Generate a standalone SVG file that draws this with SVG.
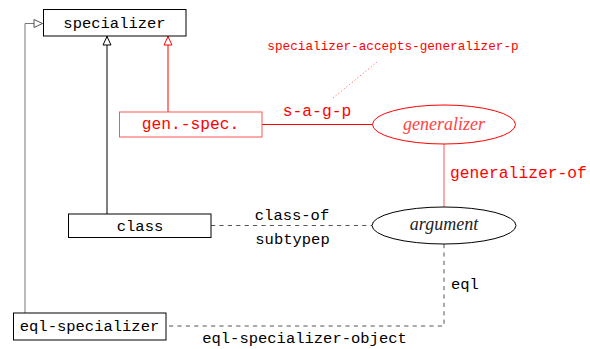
<svg xmlns="http://www.w3.org/2000/svg" width="590" height="349" viewBox="0 0 590 349">
<defs>
<style>
.box{fill:#fff;stroke:#000;stroke-width:1}
.rbox{fill:#fff;stroke:#f55;stroke-width:1}
.t{font-family:"Liberation Mono","DejaVu Sans Mono",monospace;font-size:15.5px;fill:#000}
.rt{font-family:"Liberation Mono","DejaVu Sans Mono",monospace;font-size:16.3px;fill:#f00}
.st{font-family:"Liberation Mono","DejaVu Sans Mono",monospace;font-size:12.7px;fill:#f00}
.it{font-family:"Liberation Serif","DejaVu Serif",serif;font-style:italic;font-size:18px}
.ln{fill:none;stroke-width:1}
</style>
<marker id="tri" viewBox="0 0 10 10" refX="10" refY="5" markerWidth="10" markerHeight="10" markerUnits="userSpaceOnUse" orient="auto">
<path d="M1,1 L9.5,5 L1,9 Z" fill="#fff" stroke="#000" stroke-width="1"/>
</marker>
<marker id="trir" viewBox="0 0 10 10" refX="10" refY="5" markerWidth="10" markerHeight="10" markerUnits="userSpaceOnUse" orient="auto">
<path d="M1,1 L9.5,5 L1,9 Z" fill="#fff" stroke="#f00" stroke-width="1"/>
</marker>
<marker id="trig" viewBox="0 0 10 10" refX="10" refY="5" markerWidth="10" markerHeight="10" markerUnits="userSpaceOnUse" orient="auto">
<path d="M1,1 L9.5,5 L1,9 Z" fill="#fff" stroke="#555" stroke-width="1"/>
</marker>
</defs>
<rect width="590" height="349" fill="#fff"/>
<g id="connectors">
<path class="ln" d="M25,313 V23.5 H43" stroke="#777" marker-end="url(#trig)"/>
<path class="ln" d="M107,214 V36" stroke="#000" marker-end="url(#tri)"/>
<path class="ln" d="M168,112 V36" stroke="#f00" marker-end="url(#trir)"/>
<path class="ln" d="M262,124.5 H372.5" stroke="#f00"/>
<path class="ln" d="M444,144 V207" stroke="#f55"/>
<path class="ln" d="M211,225.5 H372" stroke="#555" stroke-dasharray="4.2 4.2"/>
<path class="ln" d="M444,244 V326 H166" stroke="#555" stroke-dasharray="4.2 4.2"/>
<path class="ln" d="M333,98 L377,62" stroke="#f55" stroke-dasharray="1 2.5"/>
<text class="rt" x="317" y="116" text-anchor="middle">s-a-g-p</text>
<text class="st" x="393" y="50" text-anchor="middle">specializer-accepts-generalizer-p</text>
<text class="rt" x="450" y="178">generalizer-of</text>
<text class="t" x="292" y="219.5" text-anchor="middle">class-of</text>
<text class="t" x="292.5" y="243.5" text-anchor="middle">subtypep</text>
<text class="t" x="451" y="289">eql</text>
<text class="t" x="304.5" y="343" text-anchor="middle">eql-specializer-object</text>
</g>
<g id="specializer">
<rect class="box" x="43.5" y="9.5" width="142.5" height="26.5"/>
<text class="t" x="114.5" y="28" text-anchor="middle">specializer</text>
</g>
<g id="gen-spec">
<rect class="rbox" x="119.5" y="112" width="142.5" height="25"/>
<text class="rt" x="190.5" y="128.5" text-anchor="middle">gen.-spec.</text>
</g>
<g id="generalizer">
<ellipse cx="444" cy="124.5" rx="71.5" ry="19.5" fill="#fff" stroke="#f00" stroke-width="1"/>
<text class="it" x="444" y="129.5" text-anchor="middle" fill="#f44">generalizer</text>
</g>
<g id="class">
<rect class="box" x="68.5" y="214" width="142.5" height="23.5"/>
<text class="t" x="140" y="231" text-anchor="middle">class</text>
</g>
<g id="argument">
<ellipse cx="444" cy="225.5" rx="72" ry="18.5" fill="#fff" stroke="#000" stroke-width="1"/>
<text class="it" x="444" y="230" text-anchor="middle" fill="#222">argument</text>
</g>
<g id="eql-specializer">
<rect class="box" x="13.5" y="313" width="152.5" height="27"/>
<text class="t" x="89.5" y="331" text-anchor="middle">eql-specializer</text>
</g>
</svg>
